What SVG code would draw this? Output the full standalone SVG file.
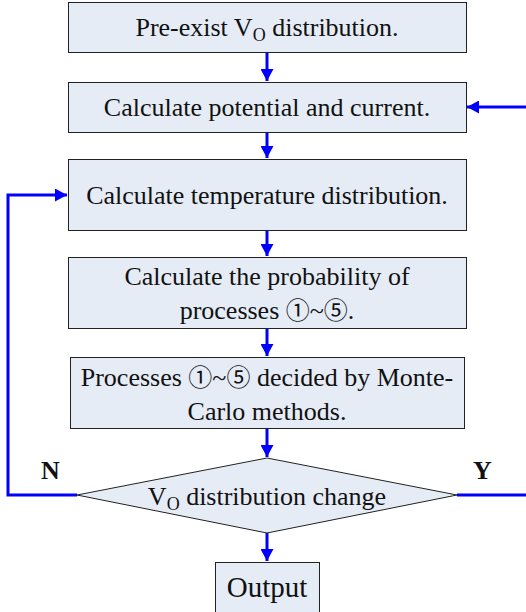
<svg xmlns="http://www.w3.org/2000/svg" width="526" height="612" viewBox="0 0 526 612">
<style>
.box{fill:#E6ECF6;stroke:#222;stroke-width:1}
.t{font-family:"Liberation Serif","DejaVu Serif",serif;font-size:26px;fill:#111;text-anchor:middle}
.cj{font-family:"Noto Sans CJK SC","DejaVu Sans",sans-serif;font-size:24px}
.lbl{font-family:"Liberation Serif",serif;font-size:26px;font-weight:bold;fill:#111}
.c{fill:none;stroke:#0000FF;stroke-width:3}
</style>
<defs>
<marker id="ah" markerWidth="13" markerHeight="13" refX="12" refY="6.5" orient="auto" markerUnits="userSpaceOnUse">
<path d="M0,0 L12,6.5 L0,13 Z" fill="#0000FF"/>
</marker>
</defs>
<g id="connectors">
<line class="c" x1="267" y1="52" x2="267" y2="81" marker-end="url(#ah)"/>
<line class="c" x1="267" y1="132" x2="267" y2="158" marker-end="url(#ah)"/>
<line class="c" x1="267" y1="230" x2="267" y2="256" marker-end="url(#ah)"/>
<line class="c" x1="267" y1="328" x2="267" y2="356" marker-end="url(#ah)"/>
<line class="c" x1="267" y1="429" x2="267" y2="457" marker-end="url(#ah)"/>
<line class="c" x1="267" y1="533" x2="267" y2="561" marker-end="url(#ah)"/>
<polyline class="c" points="77,495 8,495 8,195 67,195" marker-end="url(#ah)"/>
<line class="c" x1="457" y1="495" x2="526" y2="495"/>
<line class="c" x1="526" y1="107" x2="467" y2="107" marker-end="url(#ah)"/>
</g>
<g id="n1"><rect class="box" x="68.5" y="2.5" width="398" height="50"/>
<text class="t" x="267" y="36">Pre-exist V<tspan font-size="18" dy="5">O</tspan><tspan dy="-5"> distribution.</tspan></text></g>
<g id="n2"><rect class="box" x="68.5" y="82.5" width="398" height="50"/>
<text class="t" x="267" y="116">Calculate potential and current.</text></g>
<g id="n3"><rect class="box" x="68.5" y="159.5" width="398" height="71"/>
<text class="t" x="267" y="204">Calculate temperature distribution.</text></g>
<g id="n4"><rect class="box" x="68.5" y="257.5" width="398" height="71"/>
<text class="t" x="267" y="285">Calculate the probability of</text>
<text class="t" x="267" y="319">processes <tspan class="cj">①</tspan>~<tspan class="cj">⑤</tspan>.</text></g>
<g id="n5"><rect class="box" x="70.5" y="357.5" width="394" height="71"/>
<text class="t" x="267" y="386">Processes <tspan class="cj">①</tspan>~<tspan class="cj">⑤</tspan> decided by Monte-</text>
<text class="t" x="267" y="420">Carlo methods.</text></g>
<g id="n6"><polygon class="box" points="267,458 457,495 267,533 77,495"/>
<text class="t" x="267" y="505">V<tspan font-size="18" dy="5">O</tspan><tspan dy="-5"> distribution change</tspan></text></g>
<g id="n7"><rect class="box" x="215.5" y="562.5" width="104" height="60"/>
<text class="t" x="267" y="597" style="font-size:29px">Output</text></g>
<text class="lbl" x="41" y="479">N</text>
<text class="lbl" x="473" y="479">Y</text>
</svg>
